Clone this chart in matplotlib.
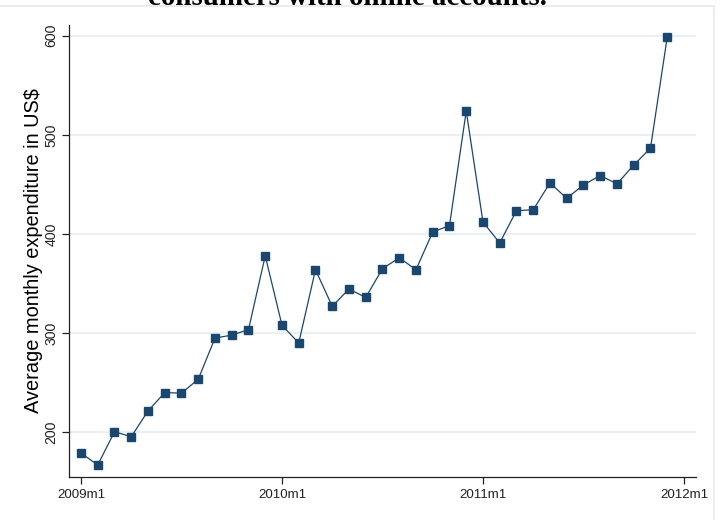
import numpy as np
import matplotlib
matplotlib.use("Agg")
import matplotlib.pyplot as plt
from matplotlib.patches import Rectangle

# Average monthly spend, 2009m1 .. 2011m12
spend = [179, 167, 200.5, 195.5, 221.5, 240, 239.5, 253.5, 295, 298, 303.5, 378,
         308, 290, 364, 327, 344.5, 336, 365, 376, 364, 402, 408.5, 524,
         412, 391, 423.5, 424.5, 451.5, 436, 449.5, 459, 450.5, 469.5, 486.5, 598.5]
month_ticks = [0, 12, 24, 36]
month_labels = ["2009m1", "2010m1", "2011m1", "2012m1"]
y_ticks = [200, 300, 400, 500, 600]

navy = "#1a476f"
grid_col = "#eaf0f2"

plt.rcParams["font.family"] = ["Liberation Sans", "DejaVu Sans"]

fig = plt.figure(figsize=(7.23, 5.20), dpi=100)
ax = fig.add_axes([0.0958, 0.0833, 0.8669, 0.8686])

months = np.arange(len(spend))
ax.plot(months, spend, color=navy, lw=0.9, marker="s", markersize=5.2,
        markerfacecolor=navy, markeredgecolor=navy, zorder=3)

ax.set_xlim(-0.70, 36.72)
ax.set_ylim(155.2, 610.8)
ax.set_xticks(month_ticks)
ax.set_xticklabels(month_labels, fontsize=9.6)
ax.set_yticks(y_ticks)
ax.set_yticklabels([str(v) for v in y_ticks], fontsize=10.2, rotation=90, va="center")
ax.tick_params(axis="both", direction="out", length=5, width=0.9, colors="#222222")
ax.tick_params(axis="x", pad=4)
ax.tick_params(axis="y", pad=3)

ax.grid(axis="y", color=grid_col, lw=1.6, zorder=0)
ax.set_axisbelow(True)
for side in ["top", "right"]:
    ax.spines[side].set_visible(False)
for side in ["left", "bottom"]:
    ax.spines[side].set_linewidth(0.9)
    ax.spines[side].set_color("#222222")

ax.set_ylabel("Average monthly expenditure in US$", fontsize=14.4, labelpad=1)

# outer graph frame, only its top and right edges fall inside the canvas
fig.patches.append(Rectangle((-0.05, -0.05), 0.05 + 714 / 723, 0.05 + 1 - 5.5 / 520,
                             transform=fig.transFigure, fill=False,
                             edgecolor="#e3eaee", lw=1.2, zorder=0))

fig.text(347 / 723, 1 - 4.7 / 520, "consumers with online accounts.",
         ha="center", va="baseline", fontsize=20.8, fontweight="bold",
         family=["Liberation Serif", "DejaVu Serif"])

fig.savefig("out.png", dpi=100)
